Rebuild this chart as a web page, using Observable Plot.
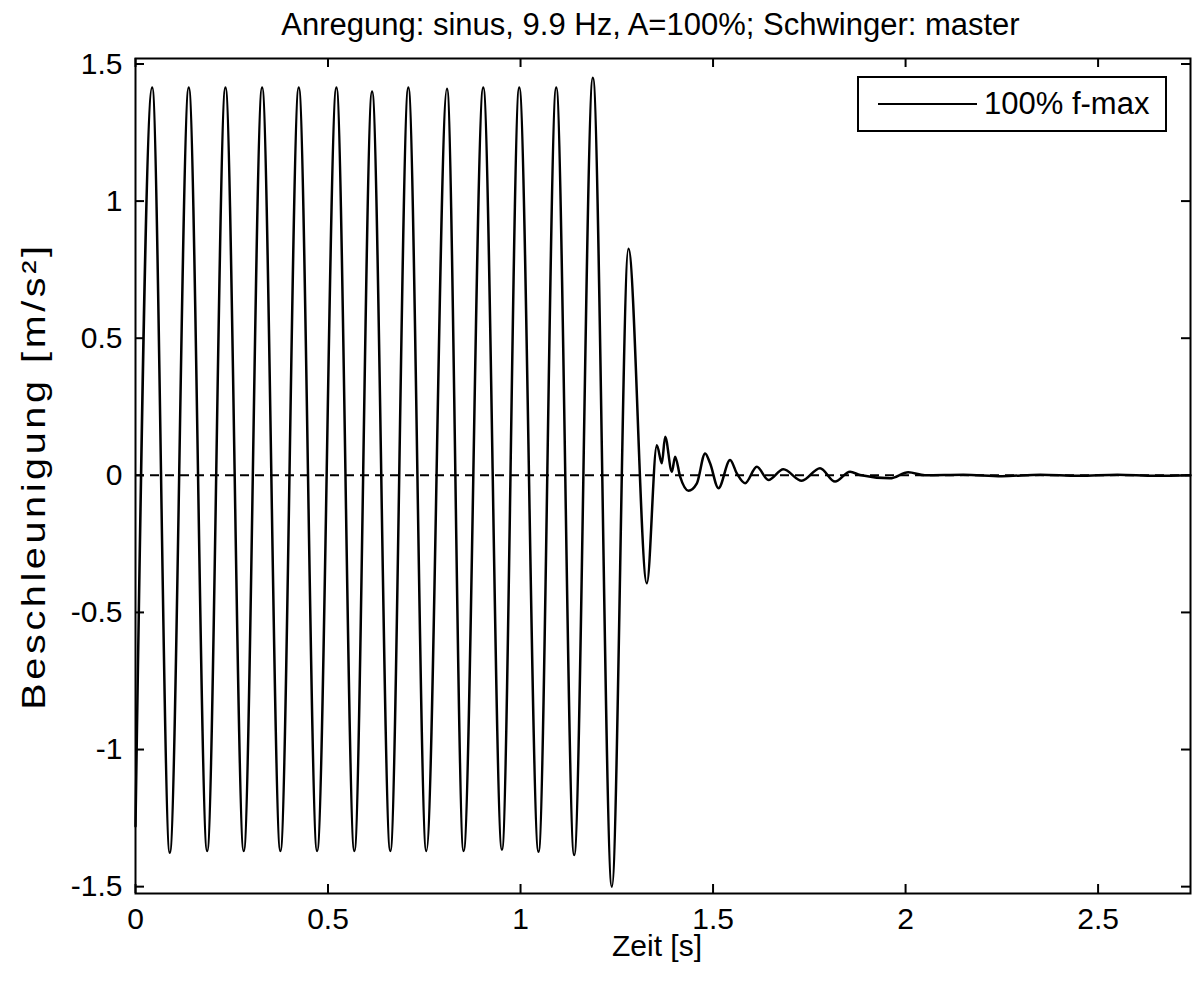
<!DOCTYPE html>
<html>
<head>
<meta charset="utf-8">
<script src="https://cdn.jsdelivr.net/npm/d3@7"></script>
<script src="https://cdn.jsdelivr.net/npm/@observablehq/plot@0.6"></script>
<style>
  body { margin: 0; background: #fff; font-family: "Liberation Sans", Arial, sans-serif; color: #000; }
  #wrap { position: relative; width: 1192px; height: 983px; overflow: hidden; }
  #title { height: 50px; line-height: 50px; padding-left: 135px; padding-right: 26px; text-align: center; font-size: 31px; white-space: nowrap; }
  #legend { position: absolute; left: 857px; top: 76px; width: 306px; height: 52px; border: 2px solid #000; background: #fff; }
  #legend .sw { position: absolute; left: 19px; top: 25px; width: 99px; height: 0; border-top: 2px solid #000; }
  #legend .lb { position: absolute; left: 125px; top: 0; height: 52px; line-height: 52px; font-size: 31px; white-space: nowrap; }
  svg { display: block; }
</style>
</head>
<body>
<div id="wrap">
  <div id="title"></div>
  <div id="chart"></div>
  <div id="legend"><div class="sw"></div><div class="lb"></div></div>
</div>
<script>
// ---- text ----
const titleText = "Anregung: sinus, 9.9 Hz, A=100%; Schwinger: master";
const xLabel = "Zeit [s]";
const yLabel = "Beschleunigung [m/s²]";
const legendLabel = "100% f-max";

// ---- ticks ----
const xTicks = [0, 0.5, 1, 1.5, 2, 2.5];
const xTickLabels = ["0", "0.5", "1", "1.5", "2", "2.5"];
const yTicks = [-1.5, -1, -0.5, 0, 0.5, 1, 1.5];
const yTickLabels = ["-1.5", "-1", "-0.5", "0", "0.5", "1", "1.5"];

// ---- excitation phase: alternating extremes (time [s], acceleration [m/s²]) ----
const cycleTimes = [0, 0.0433, 0.0890, 0.1383, 0.1861, 0.2336, 0.2811, 0.3288, 0.3763, 0.4240, 0.4716,
  0.5218, 0.5684, 0.6144, 0.6618, 0.7086, 0.7553, 0.8090, 0.8521, 0.9032, 0.9517, 0.9966, 1.0467,
  1.0927, 1.1393, 1.1879, 1.2372, 1.2803, 1.3281];
const cycleValues = [-1.28, 1.414, -1.376, 1.414, -1.37, 1.414, -1.37, 1.414, -1.37, 1.414, -1.37,
  1.414, -1.37, 1.40, -1.37, 1.414, -1.37, 1.41, -1.37, 1.414, -1.365, 1.414, -1.373,
  1.414, -1.385, 1.45, -1.50, 0.826, -0.394];

// ---- free decay after excitation stops ----
const decayTimes = [1.354, 1.367, 1.3756, 1.393, 1.4015, 1.4145, 1.436, 1.458, 1.4794, 1.4923, 1.514,
  1.5443, 1.5617, 1.5832, 1.6136, 1.6437, 1.6826, 1.7304, 1.7778, 1.8168, 1.8557, 1.8817, 1.9595,
  2.007, 2.05, 2.15, 2.25, 2.35, 2.45, 2.55, 2.65, 2.74];
const decayValues = [0.110, 0.044, 0.141, 0.013, 0.068, -0.005, -0.056, -0.029, 0.080, 0.044, -0.047,
  0.056, 0.007, -0.029, 0.031, -0.017, 0.022, -0.020, 0.026, -0.023, 0.013, 0.001, -0.011,
  0.011, 0.0, 0.002, -0.003, 0.002, -0.002, 0.002, -0.002, 0.0];

const series = [
  ...cycleTimes.map((t, i) => ({t, v: cycleValues[i]})),
  ...decayTimes.map((t, i) => ({t, v: decayValues[i]}))
];

document.getElementById("title").textContent = titleText;
document.querySelector("#legend .lb").textContent = legendLabel;

const W = 1192, H = 933;
const mT = 8, mB = 90, mL = 135, mR = 2;
const innerW = W - mL - mR, innerH = H - mT - mB;
const tickLen = 9;

const chart = Plot.plot({
  width: W,
  height: H,
  marginTop: mT,
  marginBottom: mB,
  marginLeft: mL,
  marginRight: mR,
  style: {fontFamily: "'Liberation Sans', Arial, sans-serif", fontSize: "30px", color: "#000", background: "#fff", overflow: "visible"},
  x: {domain: [0, 2.74]},
  y: {domain: [-1.525, 1.52]},
  marks: [
    Plot.ruleY([0], {stroke: "#000", strokeWidth: 2, strokeDasharray: "9,6"}),
    Plot.line(series, {x: "t", y: "v", curve: "monotone-x", stroke: "#000", strokeWidth: 2.5}),
    Plot.tickX(xTicks, {x: d => d, insetTop: innerH - tickLen, stroke: "#000", strokeWidth: 2}),
    Plot.tickX(xTicks, {x: d => d, insetBottom: innerH - tickLen, stroke: "#000", strokeWidth: 2}),
    Plot.tickY(yTicks, {y: d => d, insetRight: innerW - tickLen, stroke: "#000", strokeWidth: 2}),
    Plot.tickY(yTicks, {y: d => d, insetLeft: innerW - tickLen, stroke: "#000", strokeWidth: 2}),
    Plot.frame({stroke: "#000", strokeWidth: 2}),
    Plot.axisX(xTicks, {anchor: "bottom", tickSize: 0, tickPadding: 14, tickFormat: (d, i) => xTickLabels[i], label: null, fontSize: 30}),
    Plot.axisY(yTicks, {anchor: "left", tickSize: 0, tickPadding: 13, tickFormat: (d, i) => yTickLabels[i], label: null, fontSize: 30}),
    Plot.text([xLabel], {text: d => d, frameAnchor: "bottom", dy: 62, dx: -6, fontSize: 30, fill: "#000"}),
    Plot.text([yLabel], {text: d => d, frameAnchor: "left", textAnchor: "middle", dx: -101, rotate: -90, fontSize: 33, fill: "#000"})
  ]
});
// the rotated axis title is drawn wider in the reference: stretch it along its baseline
d3.select(chart).selectAll("text")
  .filter(function () { return this.textContent === yLabel; })
  .attr("letter-spacing", "3px")
  .attr("transform", function () { return (this.getAttribute("transform") || "") + " scale(1.2,1)"; });
document.getElementById("chart").appendChild(chart);
</script>
</body>
</html>
